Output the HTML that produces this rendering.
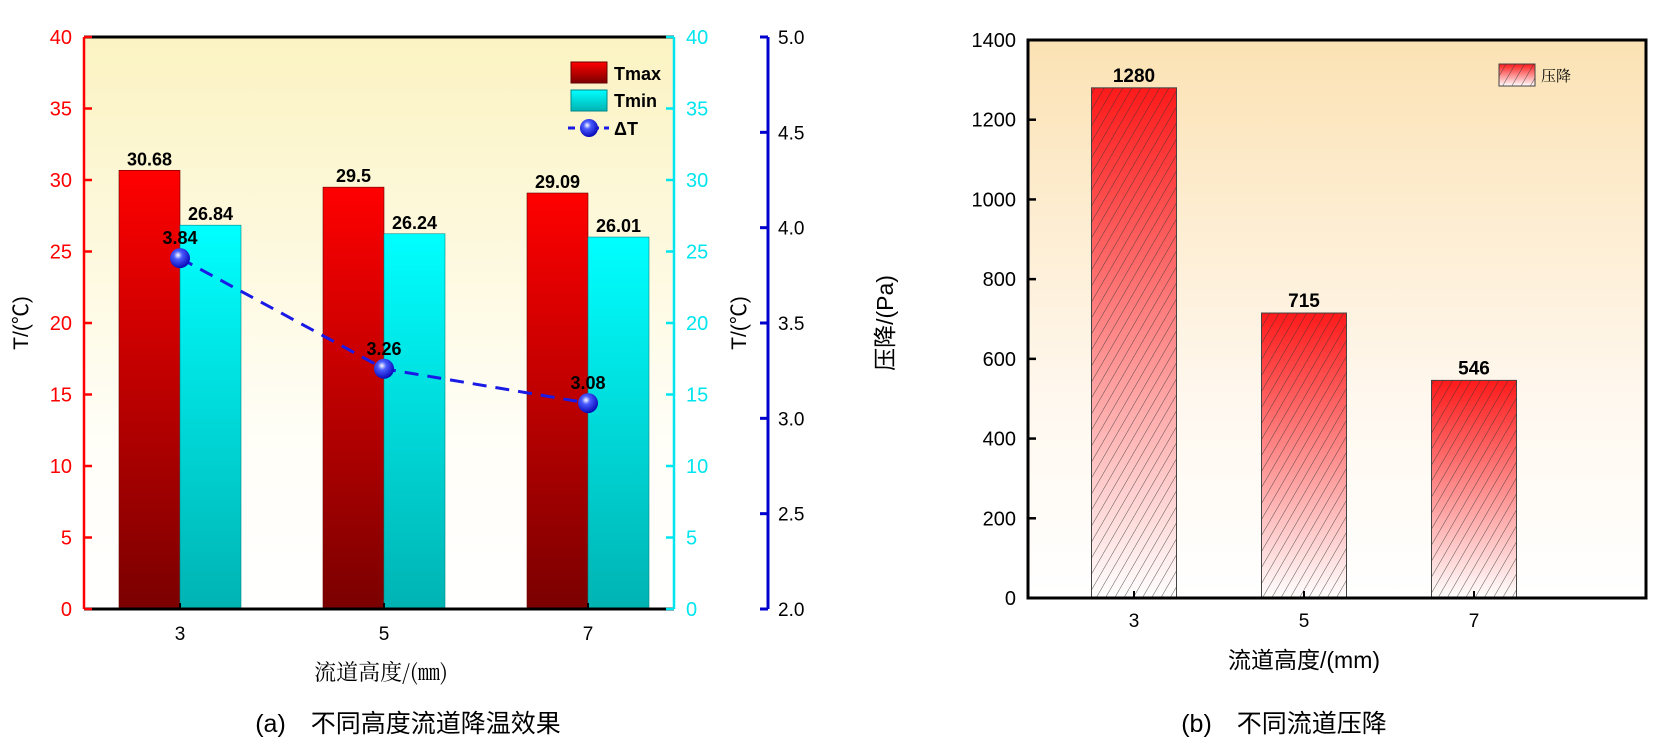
<!DOCTYPE html>
<html><head><meta charset="utf-8"><style>
html,body{margin:0;padding:0;background:#fff;}
svg{display:block;font-family:"Liberation Sans","Noto Sans CJK SC",sans-serif;}
</style></head><body>
<svg id="chart" width="1673" height="754" viewBox="0 0 1673 754" xmlns="http://www.w3.org/2000/svg">
<defs>
<linearGradient id="bgA" x1="0" y1="0" x2="0" y2="1"><stop offset="0" stop-color="#fbf3c2"/><stop offset="0.7" stop-color="#fffef7"/><stop offset="1" stop-color="#ffffff"/></linearGradient>
<linearGradient id="bgB" x1="0" y1="0" x2="0" y2="1"><stop offset="0" stop-color="#fbe2b4"/><stop offset="0.65" stop-color="#fff8ef"/><stop offset="1" stop-color="#ffffff"/></linearGradient>
<linearGradient id="gRed" x1="0" y1="0" x2="0" y2="1"><stop offset="0" stop-color="#ff0000"/><stop offset="1" stop-color="#7a0000"/></linearGradient>
<linearGradient id="gCyan" x1="0" y1="0" x2="0" y2="1"><stop offset="0" stop-color="#00ffff"/><stop offset="1" stop-color="#00b3b3"/></linearGradient>
<linearGradient id="gP" x1="0" y1="0" x2="0" y2="1"><stop offset="0" stop-color="#ff1a1a"/><stop offset="1" stop-color="#ffffff"/></linearGradient>
<radialGradient id="gBall" cx="0.4" cy="0.35" r="0.7"><stop offset="0" stop-color="#ffffff"/><stop offset="0.3" stop-color="#4a5cff"/><stop offset="1" stop-color="#0000b0"/></radialGradient>
<pattern id="hatch" width="8" height="8" patternUnits="userSpaceOnUse" patternTransform="rotate(30)"><line x1="0" y1="0" x2="0" y2="8" stroke="#333" stroke-width="1"/></pattern>
</defs>
<g id="A"></g><g id="B"></g>
</svg>
<script>
const catsA = ["3","5","7"];
const tmax = [30.68, 29.5, 29.09];
const tmin = [26.84, 26.24, 26.01];
const dT = [3.84, 3.26, 3.08];
const ticksT = [0,5,10,15,20,25,30,35,40];
const ticksD = [2.0,2.5,3.0,3.5,4.0,4.5,5.0];
const catsB = ["3","5","7"];
const dp = [1280, 715, 546];
const ticksP = [0,200,400,600,800,1000,1200,1400];

const NS="http://www.w3.org/2000/svg";
function mk(parent,tag,attrs,text){const e=document.createElementNS(NS,tag);for(const k in attrs)e.setAttribute(k,attrs[k]);if(text!==undefined)e.textContent=text;parent.appendChild(e);return e;}

// ---------- Chart A ----------
const A=document.getElementById('A');
const aL=84,aR=674,aT=37,aB=609,aBlue=768;
const yA=v=>aB-(v/40)*(aB-aT);
const yD=v=>aB-((v-2)/3)*(aB-aT);
const xA=i=>180+i*204;
const bwA=61;
let e;
e=mk(A,'rect',{x:aL,y:aT,width:aR-aL,height:aB-aT,fill:'url(#bgA)'});


catsA.forEach((c,i)=>{
 e=mk(A,'rect',{x:xA(i)-bwA,y:yA(tmax[i]),width:bwA,height:aB-yA(tmax[i]),fill:'url(#gRed)',stroke:'#600',"stroke-width":0.6});
 
 
 e=mk(A,'rect',{x:xA(i),y:yA(tmin[i]),width:bwA,height:aB-yA(tmin[i]),fill:'url(#gCyan)',stroke:'#088',"stroke-width":0.6});
 
 
 e=mk(A,'text',{x:xA(i)-bwA/2,y:yA(tmax[i])-5,"text-anchor":'middle',"font-size":18,"font-weight":'bold'},String(tmax[i]));
 
 
 e=mk(A,'text',{x:xA(i)+bwA/2,y:yA(tmin[i])-5,"text-anchor":'middle',"font-size":18,"font-weight":'bold'},String(tmin[i]));
 
 
 e=mk(A,'text',{x:xA(i),y:aB+31,"text-anchor":'middle',"font-size":19},c);
 
 
 mk(A,'line',{x1:xA(i),x2:xA(i),y1:aB,y2:aB-6,stroke:'#000',"stroke-width":2});
});
let pts=catsA.map((c,i)=>xA(i)+','+yD(dT[i])).join(' ');
e=mk(A,'polyline',{points:pts,fill:'none',stroke:'#1a1ae6',"stroke-width":3,"stroke-dasharray":'14,9'});


catsA.forEach((c,i)=>{
 e=mk(A,'circle',{cx:xA(i),cy:yD(dT[i]),r:10,fill:'url(#gBall)'});
 
 
 e=mk(A,'text',{x:xA(i),y:yD(dT[i])-14,"text-anchor":'middle',"font-size":18,"font-weight":'bold'},dT[i].toFixed(2));
 
 
});
mk(A,'line',{x1:aL,x2:aR,y1:aT,y2:aT,stroke:'#000',"stroke-width":3});
mk(A,'line',{x1:aL,x2:aR,y1:aB,y2:aB,stroke:'#000',"stroke-width":3});
e=mk(A,'line',{x1:aL,x2:aL,y1:aT,y2:aB,stroke:'#ff0000',"stroke-width":2.5});


e=mk(A,'line',{x1:aR,x2:aR,y1:aT,y2:aB,stroke:'#00e5ee',"stroke-width":2.5});


e=mk(A,'line',{x1:aBlue,x2:aBlue,y1:aT,y2:aB,stroke:'#0000cc',"stroke-width":3});


ticksT.forEach(t=>{
 mk(A,'line',{x1:aL,x2:aL+8,y1:yA(t),y2:yA(t),stroke:'#ff0000',"stroke-width":2.5});
 e=mk(A,'text',{x:aL-12,y:yA(t)+7,"text-anchor":'end',"font-size":20,fill:'#ff0000'},String(t));
 
 
 mk(A,'line',{x1:aR,x2:aR-8,y1:yA(t),y2:yA(t),stroke:'#00e5ee',"stroke-width":2.5});
 e=mk(A,'text',{x:aR+12,y:yA(t)+7,"text-anchor":'start',"font-size":20,fill:'#00e5ee'},String(t));
 
 
});
ticksD.forEach(t=>{
 mk(A,'line',{x1:aBlue-8,x2:aBlue,y1:yD(t),y2:yD(t),stroke:'#0000cc',"stroke-width":3});
 e=mk(A,'text',{x:aBlue+10,y:yD(t)+7,"text-anchor":'start',"font-size":19},t.toFixed(1));
 
 
});
e=mk(A,'text',{x:0,y:0,transform:'translate(28,323) rotate(-90)',"text-anchor":'middle',"font-size":21},'T/(℃)');


e=mk(A,'text',{x:0,y:0,transform:'translate(746,323) rotate(-90)',"text-anchor":'middle',"font-size":21},'T/(℃)');


e=mk(A,'text',{x:381,y:680,"text-anchor":'middle',"font-size":22,"font-family":'"Noto Serif CJK SC",serif'},'流道高度/(㎜)');


e=mk(A,'text',{x:408,y:732,"text-anchor":'middle',"font-size":25},'(a)　不同高度流道降温效果');


e=mk(A,'rect',{x:571,y:62,width:36,height:21,fill:'url(#gRed)',stroke:'#600'});


e=mk(A,'text',{x:614,y:80,"font-size":18,"font-weight":'bold'},'Tmax');


e=mk(A,'rect',{x:571,y:90,width:36,height:21,fill:'url(#gCyan)',stroke:'#088'});


e=mk(A,'text',{x:614,y:107,"font-size":18,"font-weight":'bold'},'Tmin');


mk(A,'line',{x1:568,x2:609,y1:128,y2:128,stroke:'#1a1ae6',"stroke-width":3,"stroke-dasharray":'7,5'});
e=mk(A,'circle',{cx:589,cy:128,r:9,fill:'url(#gBall)'});


e=mk(A,'text',{x:614,y:135,"font-size":18,"font-weight":'bold'},'ΔT');



// ---------- Chart B ----------
const B=document.getElementById('B');
const bL=1028,bR=1646,bT=40,bB=598;
const yB=v=>bB-(v/1400)*(bB-bT);
const xB=i=>1134+i*170;
const bwB=85;
e=mk(B,'rect',{x:bL,y:bT,width:bR-bL,height:bB-bT,fill:'url(#bgB)'});


catsB.forEach((c,i)=>{
 e=mk(B,'rect',{x:xB(i)-bwB/2,y:yB(dp[i]),width:bwB,height:bB-yB(dp[i]),fill:'url(#gP)',stroke:'#444',"stroke-width":1});
 
 
 mk(B,'rect',{x:xB(i)-bwB/2,y:yB(dp[i]),width:bwB,height:bB-yB(dp[i]),fill:'url(#hatch)',opacity:0.8});
 e=mk(B,'text',{x:xB(i),y:yB(dp[i])-6,"text-anchor":'middle',"font-size":19,"font-weight":'bold'},String(dp[i]));
 
 
 mk(B,'line',{x1:xB(i),x2:xB(i),y1:bB,y2:bB-7,stroke:'#000',"stroke-width":2});
 e=mk(B,'text',{x:xB(i),y:bB+29,"text-anchor":'middle',"font-size":19},c);
 
 
});
e=mk(B,'rect',{x:bL,y:bT,width:bR-bL,height:bB-bT,fill:'none',stroke:'#000',"stroke-width":3});


ticksP.forEach(t=>{
 mk(B,'line',{x1:bL,x2:bL+8,y1:yB(t),y2:yB(t),stroke:'#000',"stroke-width":2.5});
 e=mk(B,'text',{x:bL-12,y:yB(t)+7,"text-anchor":'end',"font-size":20},String(t));
 
 
});
e=mk(B,'text',{x:0,y:0,transform:'translate(893,323) rotate(-90)',"text-anchor":'middle',"font-size":23},'压降/(Pa)');


e=mk(B,'text',{x:1304,y:668,"text-anchor":'middle',"font-size":23},'流道高度/(mm)');


e=mk(B,'text',{x:1284,y:732,"text-anchor":'middle',"font-size":25},'(b)　不同流道压降');


e=mk(B,'rect',{x:1499,y:64,width:36,height:22,fill:'url(#gP)',stroke:'#444'});


mk(B,'rect',{x:1499,y:64,width:36,height:22,fill:'url(#hatch)',opacity:0.8});
e=mk(B,'text',{x:1541,y:81,"font-size":15,"font-family":'"Noto Serif CJK SC",serif'},'压降');


</script>
</body></html>
